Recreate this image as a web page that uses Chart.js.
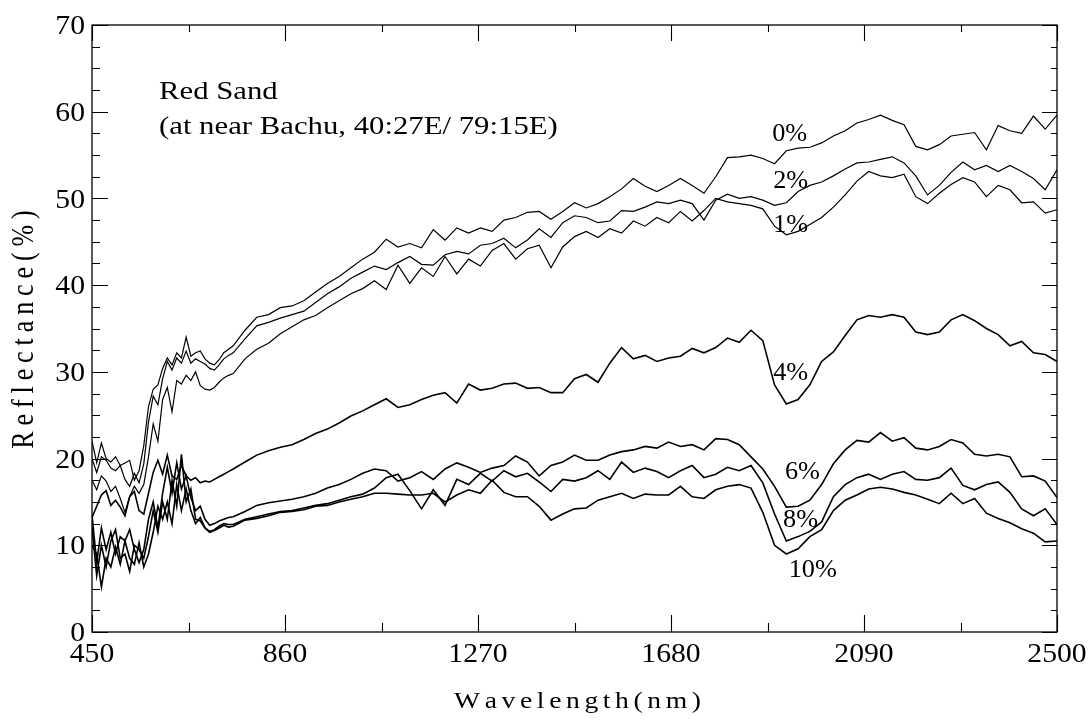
<!DOCTYPE html>
<html>
<head>
<meta charset="utf-8">
<script src="https://cdn.jsdelivr.net/npm/chart.js@4.4.1/dist/chart.umd.min.js"></script>
<style>
html,body{margin:0;padding:0;background:#fff;}
canvas{display:block;}
</style>
</head>
<body>
<canvas id="c" width="1092" height="722"></canvas>
<script>
// ---------- DATA ----------
const wavelengths = [
  450,460,470,480,490,500,510,520,530,540,550,560,570,580,590,600,610,620,630,640,650,660,670,680,690,700,710,720,730,740,
  750,775,800,825,850,875,900,925,950,975,1000,1025,1050,1075,1100,1125,1150,1175,1200,1225,1250,1275,1300,1325,1350,1375,
  1400,1425,1450,1475,1500,1525,1550,1575,1600,1625,1650,1675,1700,1725,1750,1775,1800,1825,1850,1875,1900,1925,1950,1975,
  2000,2025,2050,2075,2100,2125,2150,2175,2200,2225,2250,2275,2300,2325,2350,2375,2400,2425,2450,2475,2500
];

const refl0 = [
  22.0,19.5,21.8,20.0,19.6,20.2,19.2,19.5,19.8,17.5,18.6,21.5,26.0,28.0,28.5,30.4,31.6,30.8,32.2,31.6,34.0,31.8,32.2,32.4,31.5,31.0,30.8,31.4,32.2,32.6,
  33.0,34.8,36.3,36.6,37.4,37.6,38.2,39.2,40.2,41.0,42.0,43.0,43.8,45.3,44.4,44.8,44.3,46.4,45.2,46.6,46.0,46.6,46.2,47.5,47.8,48.4,
  48.5,47.6,48.5,49.5,48.9,49.4,50.2,51.1,52.3,51.4,50.8,51.5,52.3,51.5,50.6,52.5,54.7,54.8,55.0,54.6,54.0,55.5,55.8,55.9,
  56.4,57.2,57.8,58.7,59.1,59.6,59.0,58.5,56.0,55.6,56.2,57.2,57.4,57.6,55.6,58.4,57.8,57.5,59.5,58.0,59.6
];
const refl1 = [
  17.5,16.4,18.0,17.4,16.2,16.8,15.4,13.8,15.6,16.8,16.0,17.0,20.2,24.0,22.0,26.8,28.2,25.4,29.0,28.6,29.6,29.0,30.0,28.4,28.0,27.9,28.2,28.8,29.3,29.6,
  29.8,31.5,32.6,33.3,34.4,35.2,36.0,36.5,37.4,38.2,39.0,39.6,40.5,39.5,42.3,40.2,42.0,41.0,43.3,41.3,43.0,42.2,44.0,44.8,43.0,44.2,
  44.6,42.0,44.4,45.6,46.2,45.5,46.5,46.0,47.4,46.8,47.8,47.2,48.5,47.4,48.6,50.0,49.6,49.4,49.2,48.8,46.8,45.8,46.2,47.0,
  47.8,49.0,50.4,52.0,53.1,52.6,52.4,52.8,50.2,49.4,50.6,51.6,52.4,51.9,50.2,51.5,51.0,49.5,49.6,48.3,48.7
];
const refl2 = [
  20.0,18.4,20.2,19.8,18.9,18.6,19.2,17.6,16.8,18.3,17.2,19.4,24.2,27.2,26.2,29.2,31.2,30.2,31.6,31.0,32.4,31.0,31.5,31.2,30.9,30.4,30.2,30.8,31.5,31.9,
  32.2,33.8,35.3,35.7,36.2,36.6,37.0,38.0,39.0,39.8,40.8,41.5,42.2,41.8,42.6,43.3,42.4,42.3,43.5,43.9,43.6,44.6,44.8,45.4,44.3,45.2,
  46.5,45.5,47.2,48.0,47.8,47.2,47.4,48.6,48.5,49.0,49.6,49.4,49.8,49.4,47.5,49.8,50.5,50.0,50.2,49.8,49.2,49.5,50.8,51.5,
  51.9,52.6,53.4,54.1,54.2,54.5,54.8,54.1,52.6,50.4,51.5,53.0,54.2,53.3,53.8,53.1,53.8,53.1,52.3,51.0,53.3
];
const refl4 = [
  13.2,14.5,15.8,16.3,14.6,15.2,14.4,13.4,15.6,16.2,14.0,13.6,16.0,18.4,19.8,18.2,20.4,18.0,17.6,19.2,18.0,17.5,17.8,17.2,17.4,17.3,17.6,17.9,18.2,18.5,
  18.8,19.6,20.4,20.9,21.3,21.6,22.2,22.9,23.4,24.1,24.9,25.5,26.2,26.9,25.9,26.2,26.8,27.3,27.6,26.4,28.6,27.9,28.1,28.6,28.7,28.1,
  28.2,27.6,27.6,29.2,29.7,28.8,31.0,32.8,31.5,31.9,31.2,31.6,31.8,32.7,32.2,32.8,33.9,33.4,34.8,33.6,28.5,26.3,26.8,28.5,
  31.2,32.3,34.2,36.0,36.5,36.3,36.6,36.3,34.6,34.3,34.6,36.0,36.6,35.9,35.0,34.3,33.0,33.5,32.2,32.0,31.2
];
const refl6 = [
  13.5,8.0,12.0,9.5,11.5,9.0,11.0,10.5,11.8,9.5,8.0,9.5,13.0,15.0,12.0,16.0,19.0,16.0,19.5,16.5,18.0,15.5,14.0,14.5,13.0,12.3,12.5,12.8,13.0,13.2,
  13.3,13.9,14.6,14.9,15.1,15.3,15.6,16.0,16.6,17.0,17.6,18.3,18.8,18.6,17.4,17.8,18.5,17.6,18.8,19.5,19.0,18.4,18.9,19.2,20.3,19.6,
  18.0,19.2,19.6,20.4,19.8,19.8,20.4,20.8,21.0,21.4,21.2,21.9,21.4,21.6,21.0,22.3,22.2,21.6,20.2,18.8,16.8,14.4,14.5,15.2,
  17.0,19.4,21.0,22.1,21.9,23.0,22.0,22.4,21.2,21.0,21.4,22.2,21.8,20.5,20.3,20.5,20.2,17.9,18.0,17.4,15.5
];
const refl8 = [
  12.0,6.5,10.0,7.5,10.5,11.8,8.5,9.0,7.0,10.0,9.5,8.5,11.0,14.0,11.5,15.0,13.0,17.5,14.5,20.5,15.0,16.5,13.0,12.8,12.0,11.6,11.8,12.2,12.5,12.4,
  12.4,13.0,13.3,13.6,13.9,14.0,14.3,14.6,14.8,15.2,15.6,15.9,16.6,17.8,18.2,16.3,14.2,16.4,14.6,17.6,17.0,18.3,17.4,18.6,17.9,18.3,
  17.3,16.2,17.6,17.4,17.8,18.6,17.6,19.6,18.4,18.9,18.5,17.8,18.6,19.2,17.8,18.2,19.0,18.6,19.2,17.2,13.6,10.5,11.0,11.6,
  12.7,15.6,17.0,17.8,18.2,17.6,18.2,18.5,17.6,17.5,17.8,18.9,16.9,16.4,17.0,17.3,16.1,14.2,13.4,14.2,12.4
];
const refl10 = [
  10.0,9.0,5.2,8.5,7.5,9.8,7.8,10.5,8.5,7.8,10.3,7.5,9.0,11.5,14.5,13.0,15.0,12.5,17.0,14.0,16.5,14.0,12.5,13.2,12.0,11.5,11.7,12.0,12.3,12.1,
  12.2,12.9,13.1,13.4,13.8,13.9,14.1,14.5,14.6,15.0,15.3,15.6,16.0,16.0,15.9,15.8,15.8,16.0,15.0,15.8,16.4,16.0,17.5,16.1,15.6,15.6,
  14.5,12.9,13.6,14.2,14.3,15.2,15.6,16.0,15.4,15.9,15.8,15.8,16.8,15.6,15.4,16.4,16.8,17.0,16.6,13.8,10.0,9.0,9.6,11.0,
  11.8,14.0,15.2,15.8,16.5,16.7,16.5,16.1,15.8,15.3,14.8,16.0,14.8,15.4,13.7,13.1,12.6,11.9,11.4,10.4,10.5
];

const seriesNames = ['0%','1%','2%','4%','6%','8%','10%'];
const seriesValues = [refl0, refl1, refl2, refl4, refl6, refl8, refl10];

const xTickLabels = [450, 860, 1270, 1680, 2090, 2500];
const yTickLabels = [0, 10, 20, 30, 40, 50, 60, 70];

// label anchor spots (data coordinates: wavelength, reflectance)
const labelWave = [1895, 1897, 1897, 1897, 1922, 1918, 1930];
const labelRefl = [56.6, 46.1, 51.2, 29.1, 17.6, 12.1, 6.3];

const noteLines = ['Red Sand', '(at near Bachu, 40:27E/ 79:15E)'];
const xTitle = 'Wavelength(nm)';
const yTitle = 'Reflectance(%)';

// ---------- DRAWING ----------
const FONT = '"Liberation Serif", "Times New Roman", Times, serif';

function drawText(ctx, str, x, y, o) {
  ctx.save();
  ctx.font = o.size + 'px ' + FONT;
  ctx.fillStyle = '#000';
  ctx.textBaseline = 'alphabetic';
  ctx.textAlign = 'left';
  ctx.translate(x, y);
  if (o.rotate) { ctx.rotate(o.rotate); ctx.scale(1, o.sx || 1); }
  else { ctx.scale(o.sx || 1, 1); }
  const sp = o.spacing || 0;
  const chars = Array.from(str);
  let total, widths;
  if (sp) {
    widths = chars.map(c => ctx.measureText(c).width);
    total = widths.reduce((a, b) => a + b, 0) + sp * (chars.length - 1);
  } else {
    total = ctx.measureText(str).width;
  }
  const align = o.align || 'left';
  let start = align === 'center' ? -total / 2 : (align === 'right' ? -total : 0);
  if (!sp) {
    ctx.fillText(str, start, 0);
  } else {
    let cx = start;
    chars.forEach((c, i) => { ctx.fillText(c, cx, 0); cx += widths[i] + sp; });
  }
  ctx.restore();
}

const framePlugin = {
  id: 'frame',
  beforeDraw(chart) {
    const ctx = chart.ctx;
    ctx.save();
    ctx.fillStyle = '#fff';
    ctx.fillRect(0, 0, chart.width, chart.height);
    ctx.restore();
  },
  afterDraw(chart) {
    const ctx = chart.ctx;
    const xs = chart.scales.x, ys = chart.scales.y;
    const a = chart.chartArea;
    ctx.save();
    ctx.strokeStyle = '#000';
    ctx.lineWidth = 1.3;
    ctx.strokeRect(a.left, a.top, a.right - a.left, a.bottom - a.top);
    ctx.lineWidth = 1.1;
    ctx.beginPath();
    // y ticks every 2.5
    for (let v = 0; v <= 70.001; v += 2.5) {
      const y = Math.round(ys.getPixelForValue(v)) + 0.5;
      const major = Math.abs(v % 10) < 0.01;
      ctx.moveTo(a.left, y); ctx.lineTo(a.left + (major ? 16 : 8), y);
      ctx.moveTo(a.right, y); ctx.lineTo(a.right - (major ? 15 : 6), y);
    }
    // x ticks every 205
    for (let k = 0; k <= 10; k++) {
      const w = 450 + 205 * k;
      const x = Math.round(xs.getPixelForValue(w)) + 0.5;
      const major = k % 2 === 0;
      ctx.moveTo(x, a.bottom); ctx.lineTo(x, a.bottom - (major ? 17 : 9));
      ctx.moveTo(x, a.top); ctx.lineTo(x, a.top + (major ? 16 : 7));
    }
    ctx.stroke();
    ctx.restore();

    // tick labels
    yTickLabels.forEach(v => {
      drawText(ctx, String(v), a.left - 7, ys.getPixelForValue(v) + 9.2, {size: 27, sx: 1.1, align: 'right'});
    });
    xTickLabels.forEach(v => {
      drawText(ctx, String(v), xs.getPixelForValue(v), a.bottom + 30, {size: 27, sx: 1.1, align: 'center'});
    });

    // axis titles
    drawText(ctx, xTitle, (a.left + a.right) / 2 + 3, 708, {size: 24, sx: 1.15, align: 'center', spacing: 4});
    drawText(ctx, yTitle, 33, (a.top + a.bottom) / 2 + 1, {size: 26, sx: 1.2, align: 'center', spacing: 5.9, rotate: -Math.PI / 2});

    // annotation
    drawText(ctx, noteLines[0], 159, 98.5, {size: 25, sx: 1.23});
    drawText(ctx, noteLines[1], 159, 134, {size: 25, sx: 1.23});

    // curve labels
    seriesNames.forEach((n, i) => {
      drawText(ctx, n, xs.getPixelForValue(labelWave[i]), ys.getPixelForValue(labelRefl[i]), {size: 25, sx: 1.05});
    });
  }
};

const datasets = seriesNames.map((name, i) => ({
  label: name,
  data: wavelengths.map((w, j) => ({x: w, y: seriesValues[i][j]})),
  borderColor: '#000',
  borderWidth: i < 3 ? 1.2 : 1.6,
  pointRadius: 0,
  tension: 0,
  fill: false
}));

new Chart(document.getElementById('c'), {
  type: 'line',
  data: {datasets},
  options: {
    responsive: false,
    animation: false,
    devicePixelRatio: 1,
    events: [],
    layout: {padding: {left: 92, right: 35, top: 25, bottom: 90}},
    plugins: {legend: {display: false}, tooltip: {enabled: false}},
    scales: {
      x: {type: 'linear', min: 450, max: 2500, display: false},
      y: {type: 'linear', min: 0, max: 70, display: false}
    }
  },
  plugins: [framePlugin]
});
</script>
</body>
</html>
